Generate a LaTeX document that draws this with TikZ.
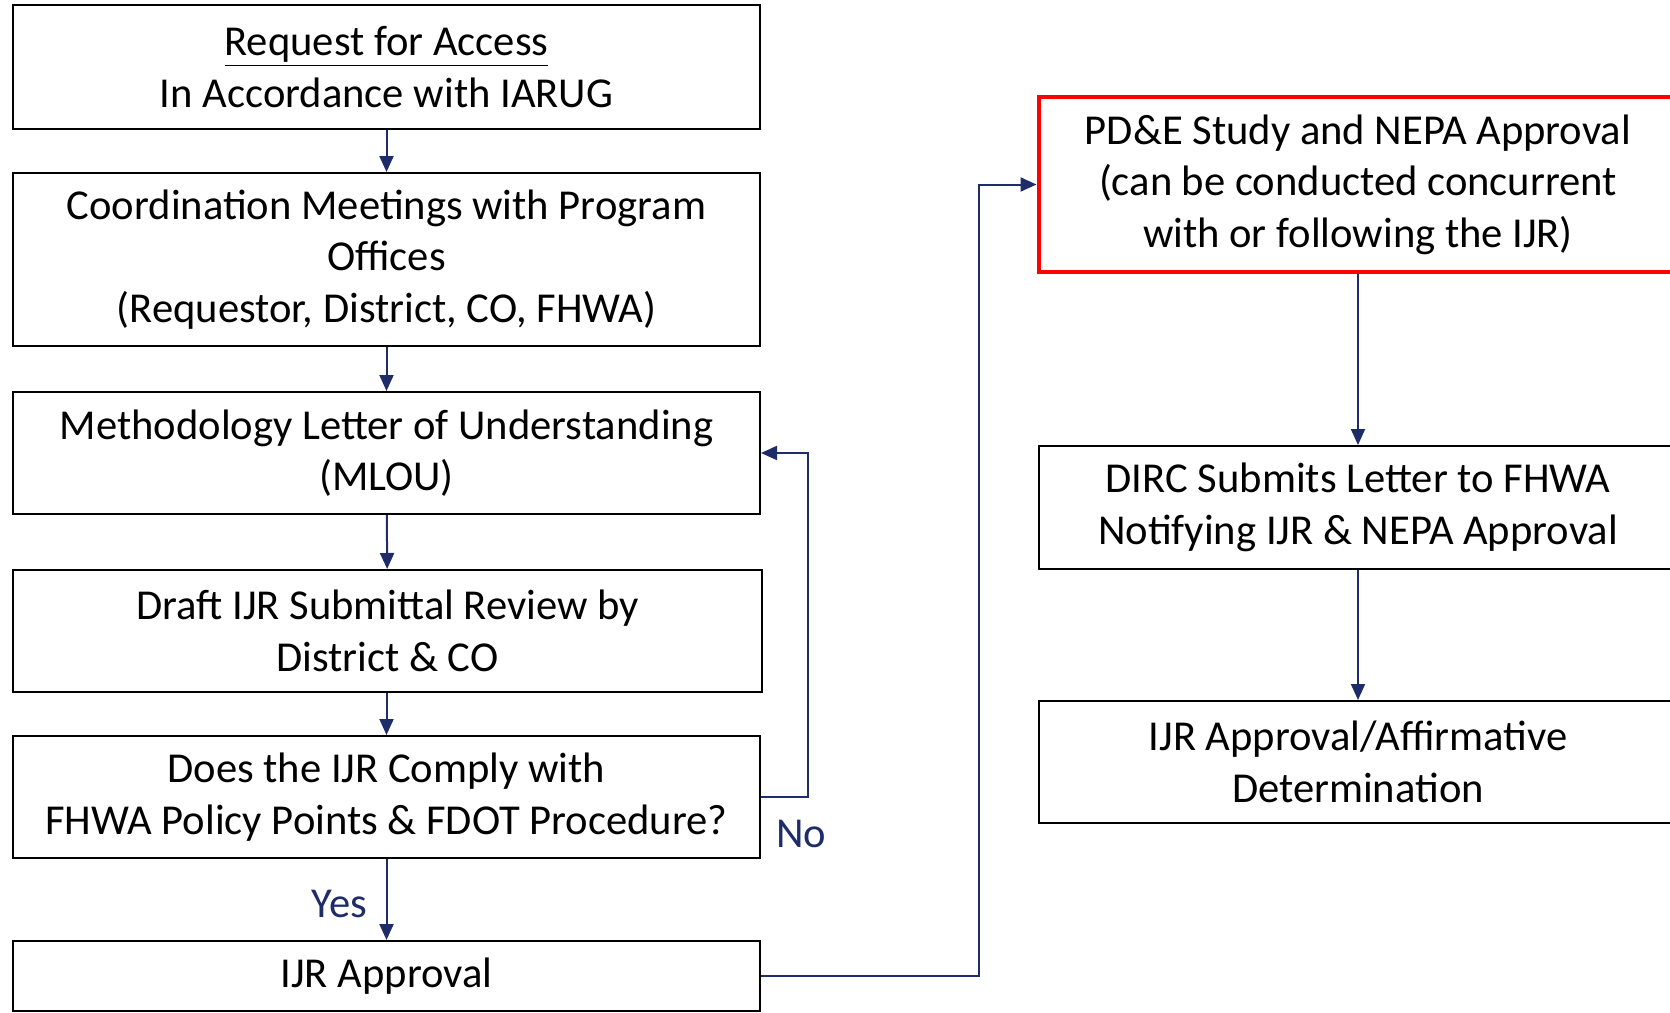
\documentclass[tikz,border=0pt]{standalone}
\usepackage{fontspec}
\setmainfont{Carlito}
\usetikzlibrary{arrows.meta,positioning,calc}
\definecolor{navy}{HTML}{1F2C6A}
\definecolor{pdered}{HTML}{FF0000}

\begin{document}
\begin{tikzpicture}[x=0.5pt,y=-0.5pt,
    box/.style={draw, line width=1pt, minimum width=373.5pt, align=center,
      inner sep=0pt, font=\fontsize{21.3}{25.8}\selectfont},
    rbox/.style={box, minimum width=319.5pt},
    flow/.style={draw=navy, line width=1pt, -{Triangle[length=8pt,width=7pt]}},
    lbl/.style={text=navy, font=\fontsize{21.3}{24}\selectfont}]
  \useasboundingbox (0,0) rectangle (1670,1012);
  % left column
  \node[box, minimum height=62pt] (req) at (386.5,67)
    {\underline{Request for Access}\\In Accordance with IARUG};
  \node[box, minimum height=86.5pt] (coord) at (386.5,259.5)
    {Coordination Meetings with Program\\Offices\\(Requestor, District, CO, FHWA)};
  \node[box, minimum height=61pt] (mlou) at (386.5,453)
    {Methodology Letter of Understanding\\(MLOU)};
  \node[box, minimum width=374.5pt, minimum height=61pt] (draft) at (387.5,631)
    {Draft IJR Submittal Review by\\District \& CO};
  \node[box, minimum height=61pt] (comply) at (386.5,797)
    {Does the IJR Comply with\\FHWA Policy Points \& FDOT Procedure?};
  \node[box, minimum height=35pt] (ijr) at (386.5,976) {IJR Approval};
  % right column
  \node[rbox, draw=pdered, line width=2pt, minimum height=87.5pt] (pde) at (1358,184.5)
    {PD\&E Study and NEPA Approval\\(can be conducted concurrent\\with or following the IJR)};
  \node[rbox, minimum height=61.5pt] (dirc) at (1358,507.5)
    {DIRC Submits Letter to FHWA\\Notifying IJR \& NEPA Approval};
  \node[rbox, minimum height=61pt] (affirm) at (1358,762)
    {IJR Approval/Affirmative\\Determination};

  \draw[flow] (req) -- (coord);
  \draw[flow] (coord) -- (mlou);
  \draw[flow] (mlou) -- (draft);
  \draw[flow] (draft.south -| comply.north) -- (comply);
  \draw[flow] (comply) -- node[lbl, left=6pt, pos=0.55] (yes) {Yes} (ijr);
  \draw[flow] (comply.east) -- ++(47,0) coordinate (nocorner) |- (mlou.east);
  \node[lbl] (no) at ([shift={(-7,37)}]nocorner) {No};
  \draw[flow] (ijr.east) -- ++(218,0) |- (pde.west);
  \draw[flow] (pde) -- (dirc);
  \draw[flow] (dirc) -- (affirm);
\end{tikzpicture}
\end{document}
